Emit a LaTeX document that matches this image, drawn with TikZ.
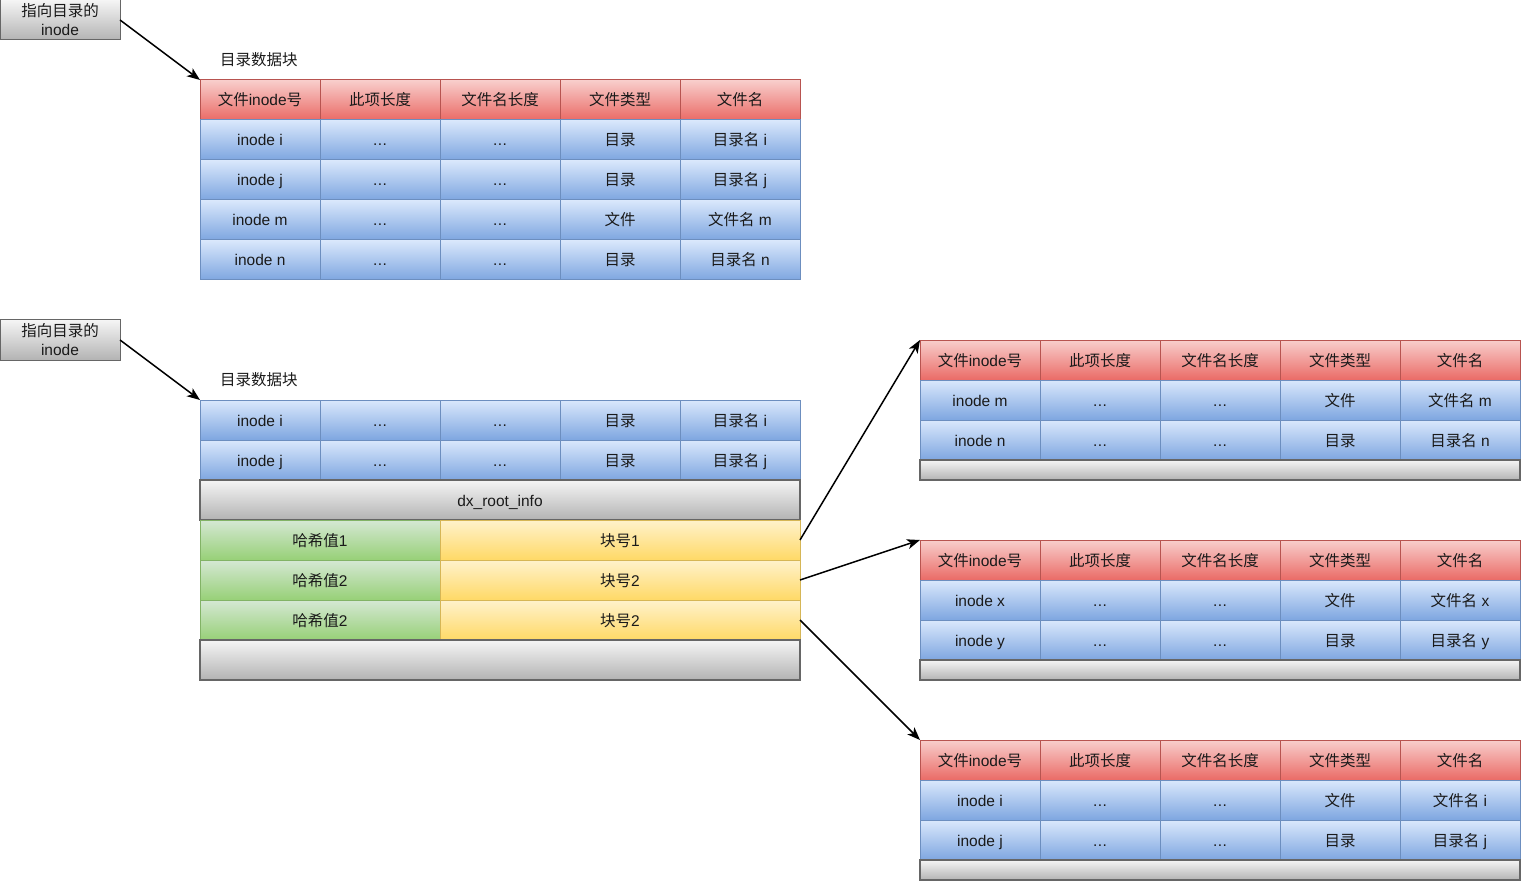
\documentclass[tikz,border=0pt]{standalone}
\usepackage{fontspec}
\setmainfont{Liberation Sans}
\newfontfamily\zhfont{Noto Sans CJK SC}
\newcommand\zh[1]{{\zhfont #1}}
\usetikzlibrary{arrows.meta}

\definecolor{redtop}{HTML}{F8CECC}\definecolor{redbot}{HTML}{EA6B66}\definecolor{redln}{HTML}{B85450}
\definecolor{blutop}{HTML}{DAE8FC}\definecolor{blubot}{HTML}{7EA6E0}\definecolor{bluln}{HTML}{6C8EBF}
\definecolor{grntop}{HTML}{D5E8D4}\definecolor{grnbot}{HTML}{97D077}\definecolor{grnln}{HTML}{82B366}
\definecolor{ylwtop}{HTML}{FFF2CC}\definecolor{ylwbot}{HTML}{FFD966}\definecolor{ylwln}{HTML}{D6B656}
\definecolor{grytop}{HTML}{F5F5F5}\definecolor{grybot}{HTML}{B3B3B3}\definecolor{gryln}{HTML}{666666}
\definecolor{txt}{HTML}{1A1A1A}

\tikzset{
  base/.style={minimum width=120pt, minimum height=40pt, inner sep=0pt, outer sep=0pt,
    line width=1pt, anchor=north west, text=txt},
  cell/.style={base, text height=14pt, text depth=2pt, font=\fontsize{15.5}{18}\selectfont},
  hdr/.style={cell, draw=redln, top color=redtop, bottom color=redbot},
  blu/.style={cell, draw=bluln, top color=blutop, bottom color=blubot},
  grn/.style={cell, draw=grnln, top color=grntop, bottom color=grnbot, minimum width=240pt},
  ylw/.style={cell, draw=ylwln, top color=ylwtop, bottom color=ylwbot, minimum width=360pt},
  gry/.style={cell, draw=gryln, line width=1.5pt, top color=grytop, bottom color=grybot, minimum width=600pt},
  bar/.style={gry, minimum height=20pt, text height=0pt, text depth=0pt},
  lab/.style={base, draw=gryln, top color=grytop, bottom color=grybot, align=center,
    font=\fontsize{15.5}{19}\selectfont},
  title/.style={anchor=west, inner sep=0pt, text=txt, font=\fontsize{15.5}{18}\selectfont},
  arr/.style={line width=1.5pt, -{Stealth[length=13pt, width=10pt, inset=3.5pt]}},
}

% header row of a directory table: #1 prefix, #2 x, #3 y
\newcommand\hdrrow[3]{%
  \node[hdr] (#1h1) at (#2,#3) {\zh{文件}inode\zh{号}};
  \node[hdr] (#1h2) at (#2+120,#3) {\zh{此项长度}};
  \node[hdr] (#1h3) at (#2+240,#3) {\zh{文件名长度}};
  \node[hdr] (#1h4) at (#2+360,#3) {\zh{文件类型}};
  \node[hdr] (#1h5) at (#2+480,#3) {\zh{文件名}};
}
% entry row: #1 name, #2 x, #3 y, #4 inode, #5 type, #6 name
\newcommand\entryrow[6]{%
  \node[blu] (#1c1) at (#2,#3) {#4};
  \node[blu] (#1c2) at (#2+120,#3) {.\kern0.5pt.\kern0.5pt.};
  \node[blu] (#1c3) at (#2+240,#3) {.\kern0.5pt.\kern0.5pt.};
  \node[blu] (#1c4) at (#2+360,#3) {#5};
  \node[blu] (#1c5) at (#2+480,#3) {#6};
}

\begin{document}
\begin{tikzpicture}[x=1pt, y=-1pt]
\useasboundingbox (0,0) rectangle (1522,882);

% ---- linear directory block ----
\node[lab] (lab1) at (0,0) {\zh{指向目录的}\\inode};
\node[title] (cap1) at (220,60) {\zh{目录数据块}};
\hdrrow{ta}{200}{80}
\entryrow{ta1}{200}{120}{inode i}{\zh{目录}}{\zh{目录名} i}
\entryrow{ta2}{200}{160}{inode j}{\zh{目录}}{\zh{目录名} j}
\entryrow{ta3}{200}{200}{inode m}{\zh{文件}}{\zh{文件名} m}
\entryrow{ta4}{200}{240}{inode n}{\zh{目录}}{\zh{目录名} n}
\draw[arr] (lab1.east) -- (tah1.north west);

% ---- indexed directory root block ----
\node[lab] (lab2) at (0,320) {\zh{指向目录的}\\inode};
\node[title] (cap2) at (220,380) {\zh{目录数据块}};
\entryrow{tb1}{200}{400}{inode i}{\zh{目录}}{\zh{目录名} i}
\entryrow{tb2}{200}{440}{inode j}{\zh{目录}}{\zh{目录名} j}
\node[gry] (root) at (200,480) {dx\_root\_info};
\node[grn] (hash1) at (200,520) {\zh{哈希值}1};
\node[ylw] (blk1) at (440,520) {\zh{块号}1};
\node[grn] (hash2) at (200,560) {\zh{哈希值}2};
\node[ylw] (blk2) at (440,560) {\zh{块号}2};
\node[grn] (hash3) at (200,600) {\zh{哈希值}2};
\node[ylw] (blk3) at (440,600) {\zh{块号}2};
\node[gry] (tail) at (200,640) {};
\draw[arr] (lab2.east) -- (tb1c1.north west);

% ---- leaf blocks ----
\hdrrow{la}{920}{340}
\entryrow{la1}{920}{380}{inode m}{\zh{文件}}{\zh{文件名} m}
\entryrow{la2}{920}{420}{inode n}{\zh{目录}}{\zh{目录名} n}
\node[bar] (laend) at (920,460) {};

\hdrrow{lb}{920}{540}
\entryrow{lb1}{920}{580}{inode x}{\zh{文件}}{\zh{文件名} x}
\entryrow{lb2}{920}{620}{inode y}{\zh{目录}}{\zh{目录名} y}
\node[bar] (lbend) at (920,660) {};

\hdrrow{lc}{920}{740}
\entryrow{lc1}{920}{780}{inode i}{\zh{文件}}{\zh{文件名} i}
\entryrow{lc2}{920}{820}{inode j}{\zh{目录}}{\zh{目录名} j}
\node[bar] (lcend) at (920,860) {};

\draw[arr] (blk1.east) -- (lah1.north west);
\draw[arr] (blk2.east) -- (lbh1.north west);
\draw[arr] (blk3.east) -- (lch1.north west);
\end{tikzpicture}
\end{document}
